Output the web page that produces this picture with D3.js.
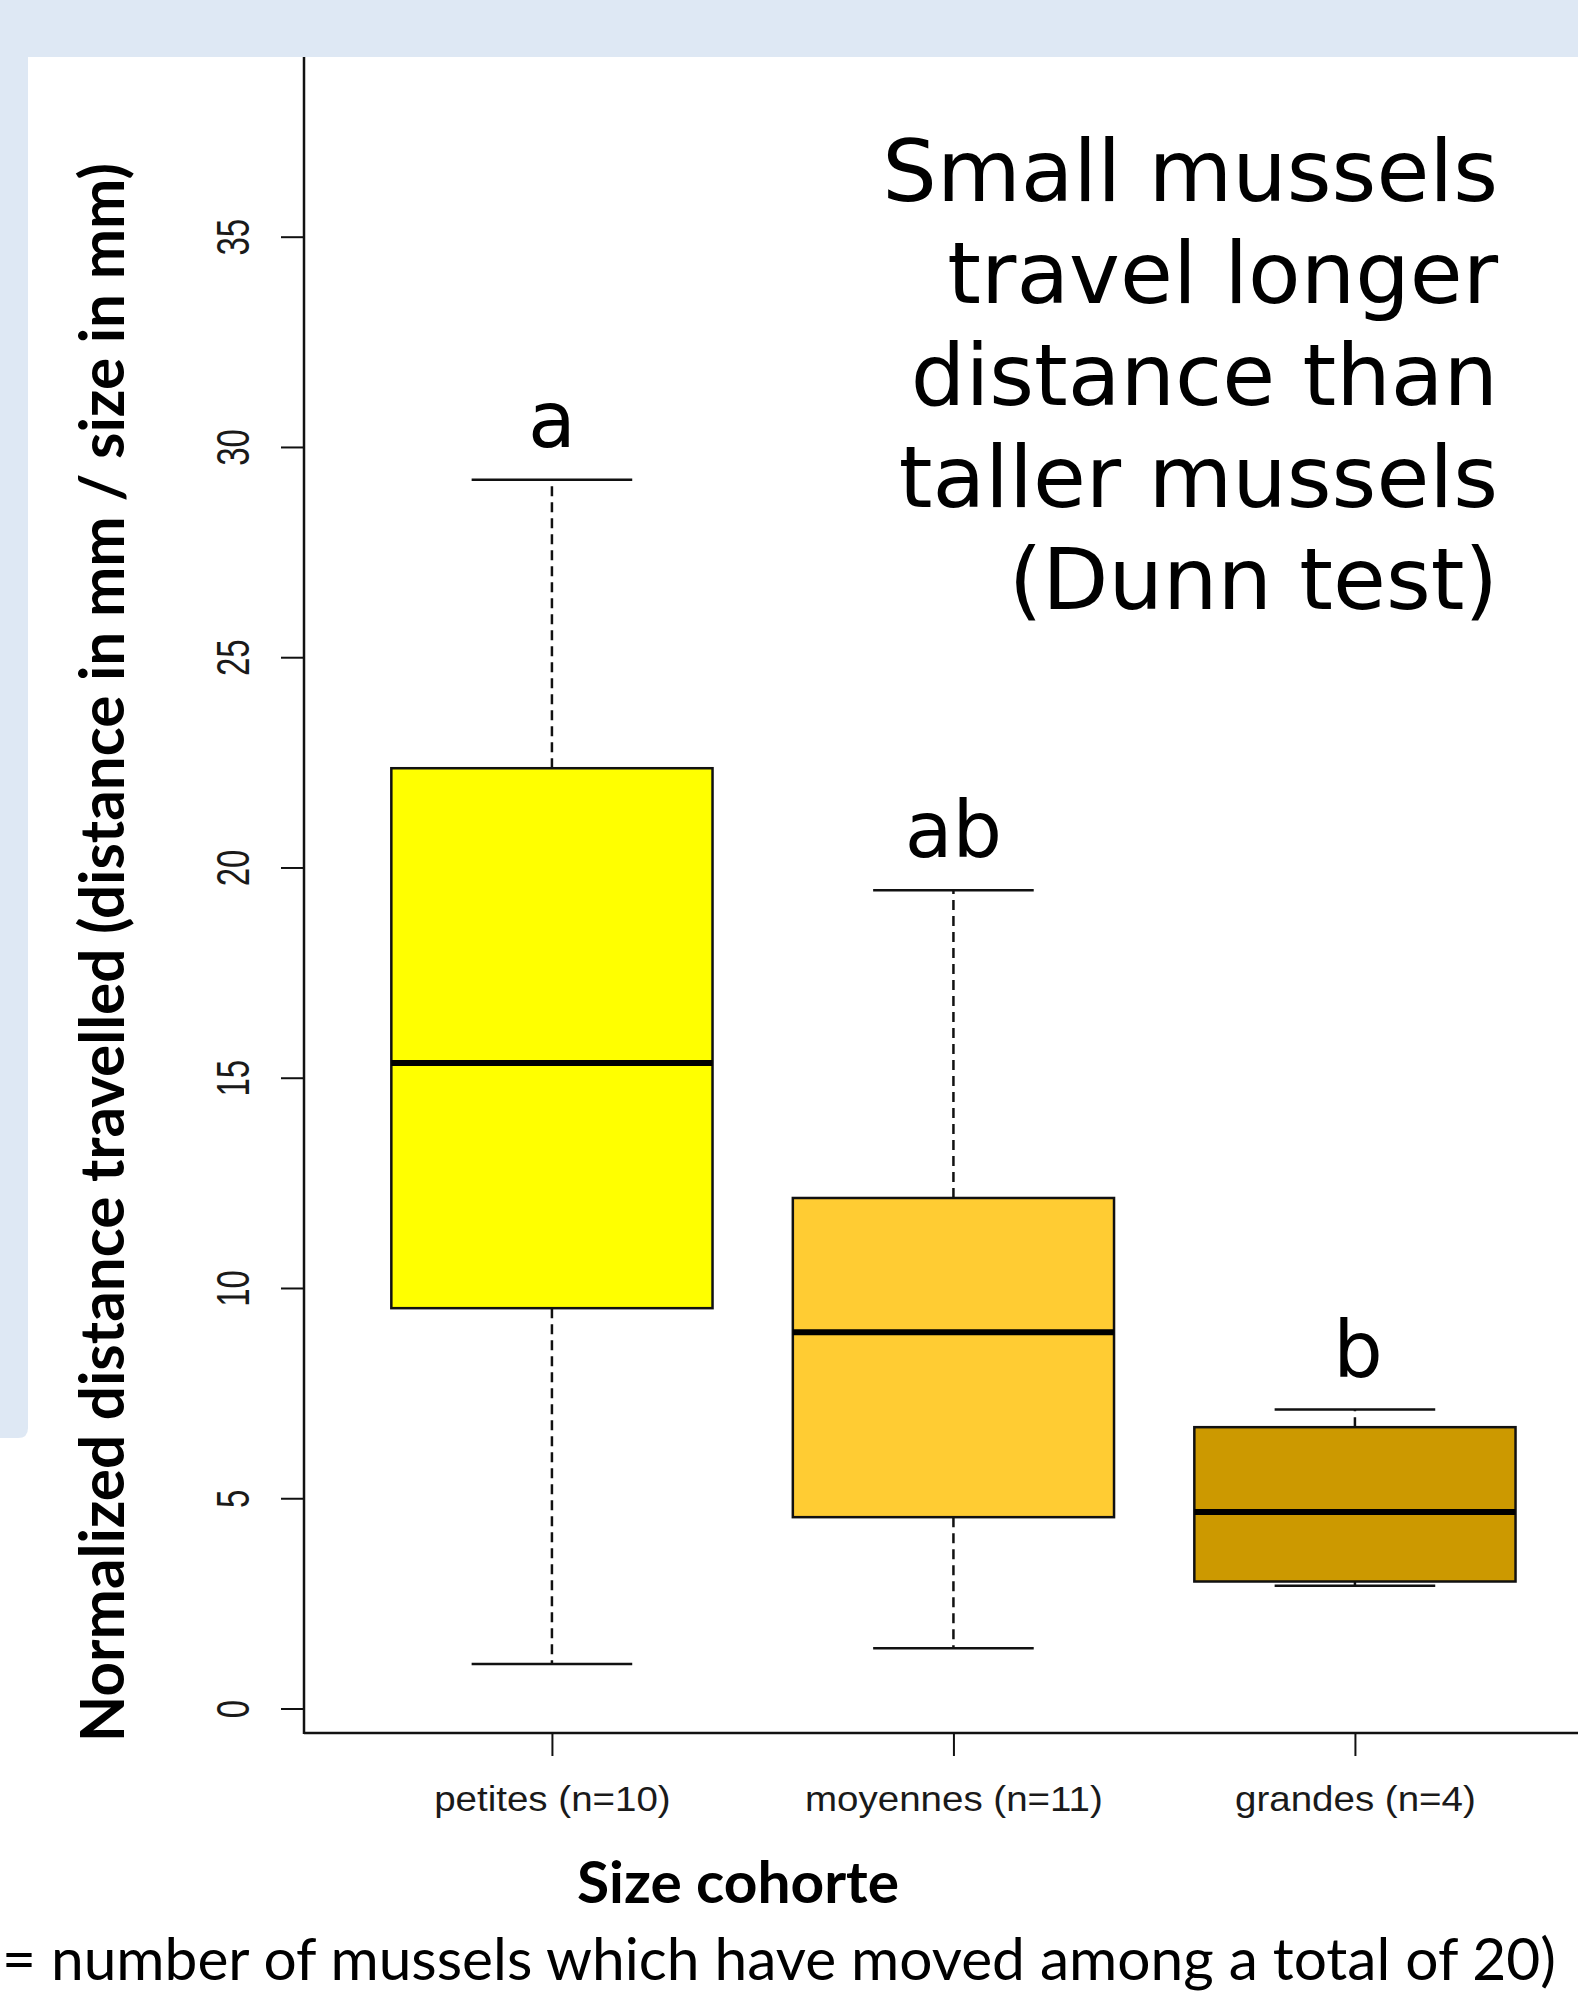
<!DOCTYPE html>
<html>
<head>
<meta charset="utf-8">
<script src="https://cdn.jsdelivr.net/npm/d3@7"></script>
<style>
  html, body { margin: 0; padding: 0; background: #ffffff; }
  svg { display: block; }
</style>
</head>
<body>
<svg id="chart" width="1578" height="1998"></svg>
<script>
// Size cohorts and their box-plot statistics (normalized distance, mm / mm)
const categories = ["petites (n=10)", "moyennes (n=11)", "grandes (n=4)"];
const whiskerLow  = [1.06, 1.43, 2.92];
const quartile1   = [9.52, 4.55, 3.02];
const medians     = [15.35, 8.95, 4.67];
const quartile3   = [22.36, 12.14, 6.69];
const whiskerHigh = [29.22, 19.46, 7.11];
const groupLetters = ["a", "ab", "b"];
const boxColors = ["#FFFF00", "#FFCC33", "#CC9900"];
const yTicks = [0, 5, 10, 15, 20, 25, 30, 35];
const titleLines = ["Small mussels", "travel longer", "distance than", "taller mussels", "(Dunn test)"];

const svg = d3.select("#chart");
const W = 1578, H = 1998;

// slide background: light-blue band on top and a strip on the left
svg.append("rect").attr("x", 0).attr("y", 0).attr("width", W).attr("height", H).attr("fill", "#ffffff");
const slideBlue = "#DEE8F4";
svg.append("rect").attr("x", 0).attr("y", 0).attr("width", W).attr("height", 57).attr("fill", slideBlue);
svg.append("path")
  .attr("d", "M0,0 H28 V1428 Q28,1438 18,1438 H0 Z")
  .attr("fill", slideBlue);

// plot region
const frameLeft = 304, frameBottom = 1733, frameTop = 57;
const x = d3.scaleLinear().domain([0.38, 3.62]).range([303, 303 + 3.24 * 401.5]);
const y = d3.scaleLinear().domain([0, 35]).range([1708.5, 236.7]);

const g = svg.append("g");

// frame (left and bottom sides)
g.append("line").attr("x1", frameLeft).attr("x2", frameLeft).attr("y1", frameTop).attr("y2", frameBottom + 1)
  .attr("stroke", "#111").attr("stroke-width", 2.5);
g.append("line").attr("x1", frameLeft).attr("x2", W).attr("y1", frameBottom).attr("y2", frameBottom)
  .attr("stroke", "#111").attr("stroke-width", 2.5);

// y axis
const yAxis = g.append("g")
  .attr("transform", `translate(${frameLeft},0)`)
  .call(d3.axisLeft(y).tickValues(yTicks).tickSize(23).tickSizeOuter(0).tickFormat(d3.format("d")));
yAxis.select(".domain").remove();
yAxis.selectAll(".tick line").attr("stroke", "#111").attr("stroke-width", 2);
yAxis.selectAll(".tick text")
  .attr("x", null).attr("dy", null)
  .attr("transform", "translate(-55,0) scale(1.4,1) rotate(-90)")
  .attr("text-anchor", "middle")
  .attr("font-family", "'Liberation Sans', Arial, sans-serif")
  .attr("font-size", 33)
  .attr("fill", "#1a1a1a");

// x axis
const idx = categories.map((c, i) => i + 1);
const xAxis = g.append("g")
  .attr("transform", `translate(0,${frameBottom})`)
  .call(d3.axisBottom(x).tickValues(idx).tickSize(23).tickSizeOuter(0).tickFormat(i => categories[i - 1]));
xAxis.select(".domain").remove();
xAxis.selectAll(".tick line").attr("stroke", "#111").attr("stroke-width", 2);
xAxis.selectAll(".tick text")
  .attr("y", null).attr("dy", null)
  .attr("transform", "translate(0,78) scale(1.1,1)")
  .attr("text-anchor", "middle")
  .attr("font-family", "'Liberation Sans', Arial, sans-serif")
  .attr("font-size", 35)
  .attr("fill", "#1a1a1a");

// boxes
const boxW = 0.8, capW = 0.4;
const data = categories.map((c, i) => ({
  pos: i + 1, lo: whiskerLow[i], q1: quartile1[i], med: medians[i],
  q3: quartile3[i], hi: whiskerHigh[i], color: boxColors[i], letter: groupLetters[i]
}));

const boxes = g.selectAll(".box").data(data).join("g").attr("class", "box");

// dashed whiskers
boxes.append("line")
  .attr("x1", d => x(d.pos)).attr("x2", d => x(d.pos))
  .attr("y1", d => y(d.q3)).attr("y2", d => y(d.hi))
  .attr("stroke", "#111").attr("stroke-width", 2.5).attr("stroke-dasharray", "10,6");
boxes.append("line")
  .attr("x1", d => x(d.pos)).attr("x2", d => x(d.pos))
  .attr("y1", d => y(d.q1)).attr("y2", d => y(d.lo))
  .attr("stroke", "#111").attr("stroke-width", 2.5).attr("stroke-dasharray", "10,6");

// whisker caps
boxes.append("line")
  .attr("x1", d => x(d.pos - capW / 2)).attr("x2", d => x(d.pos + capW / 2))
  .attr("y1", d => y(d.hi)).attr("y2", d => y(d.hi))
  .attr("stroke", "#111").attr("stroke-width", 2.5);
boxes.append("line")
  .attr("x1", d => x(d.pos - capW / 2)).attr("x2", d => x(d.pos + capW / 2))
  .attr("y1", d => y(d.lo)).attr("y2", d => y(d.lo))
  .attr("stroke", "#111").attr("stroke-width", 2.5);

// interquartile box
boxes.append("rect")
  .attr("x", d => x(d.pos - boxW / 2))
  .attr("width", d => x(d.pos + boxW / 2) - x(d.pos - boxW / 2))
  .attr("y", d => y(d.q3))
  .attr("height", d => y(d.q1) - y(d.q3))
  .attr("fill", d => d.color)
  .attr("stroke", "#111").attr("stroke-width", 2.5);

// median
boxes.append("line")
  .attr("x1", d => x(d.pos - boxW / 2)).attr("x2", d => x(d.pos + boxW / 2))
  .attr("y1", d => y(d.med)).attr("y2", d => y(d.med))
  .attr("stroke", "#000").attr("stroke-width", 6);

// significance letters above the upper whiskers
boxes.append("text")
  .attr("x", d => x(d.pos) + (d.letter === "b" ? 3 : 0))
  .attr("y", d => y(d.hi) - 33)
  .attr("text-anchor", "middle")
  .attr("font-family", "'DejaVu Sans', Verdana, sans-serif")
  .attr("font-size", 78)
  .attr("fill", "#000")
  .text(d => d.letter);

// headline on the right
svg.append("g").selectAll("text").data(titleLines).join("text")
  .attr("x", 1498)
  .attr("y", (d, i) => 201 + i * 102)
  .attr("text-anchor", "end")
  .attr("font-family", "'DejaVu Sans', Verdana, sans-serif")
  .attr("font-size", 86)
  .attr("fill", "#000")
  .text(d => d);

// axis titles
svg.append("text")
  .attr("transform", "translate(124,1742) rotate(-90)")
  .attr("text-anchor", "start")
  .attr("font-family", "Lato, 'Open Sans', sans-serif")
  .attr("font-weight", "bold")
  .attr("font-size", 62)
  .attr("textLength", 1579)
  .attr("lengthAdjust", "spacingAndGlyphs")
  .attr("fill", "#000")
  .text("Normalized distance travelled (distance in mm / size in mm)");

svg.append("text")
  .attr("x", 577).attr("y", 1903)
  .attr("font-family", "Lato, 'Open Sans', sans-serif")
  .attr("font-weight", "bold")
  .attr("font-size", 58)
  .attr("textLength", 322)
  .attr("lengthAdjust", "spacingAndGlyphs")
  .attr("fill", "#000")
  .text("Size cohorte");

// sample-size note under the axis title
svg.append("text")
  .attr("x", 2).attr("y", 1980)
  .attr("font-family", "Lato, 'Open Sans', sans-serif")
  .attr("font-size", 58)
  .attr("textLength", 1554)
  .attr("lengthAdjust", "spacingAndGlyphs")
  .attr("fill", "#000")
  .text("= number of mussels which have moved among a total of 20)");
</script>
</body>
</html>
